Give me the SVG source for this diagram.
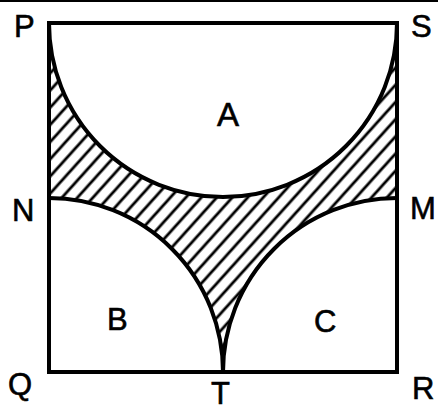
<svg xmlns="http://www.w3.org/2000/svg" width="438" height="412" viewBox="0 0 438 412">
  <style>
    .lbl { font-family: "Liberation Sans", Arial, sans-serif; font-size: 31px; fill: #000; stroke: #000; stroke-width: 0.6; }
    .edge { fill: none; stroke: #000; stroke-width: 4; stroke-linejoin: miter; }
  </style>
  <defs>
    <pattern id="hatch" patternUnits="userSpaceOnUse" width="11.5" height="11.5" patternTransform="rotate(42)">
      <line x1="5.75" y1="0" x2="5.75" y2="11.5" stroke="#000" stroke-width="2.8"/>
    </pattern>
  </defs>
  <rect width="438" height="412" fill="#fff"/>
  <line x1="0" y1="1" x2="438" y2="1" stroke="#000" stroke-width="2"/>

  <g id="shaded-region">
    <path d="M49,23 A174,174 0 0 0 397,23 L397,198 A174,174 0 0 0 223,372 A174,174 0 0 0 49,198 Z" fill="url(#hatch)" stroke="none"/>
  </g>

  <g id="connectors">
    <rect id="square-PQRS" class="edge" x="49" y="23" width="348" height="349"/>
    <path id="semicircle-A" class="edge" d="M49,23 A174,174 0 0 0 397,23"/>
    <path id="arc-B" class="edge" d="M49,198 A174,174 0 0 1 223,372"/>
    <path id="arc-C" class="edge" d="M397,198 A174,174 0 0 0 223,372"/>
  </g>

  <g id="node-P"><text class="lbl" x="14" y="37">P</text></g>
  <g id="node-S"><text class="lbl" x="411" y="37">S</text></g>
  <g id="node-N"><text class="lbl" x="12" y="221">N</text></g>
  <g id="node-M"><text class="lbl" x="410" y="219">M</text></g>
  <g id="node-Q"><text class="lbl" x="8" y="395">Q</text></g>
  <g id="node-T"><text class="lbl" x="211" y="404">T</text></g>
  <g id="node-R"><text class="lbl" x="412" y="399">R</text></g>
  <g id="node-A"><text class="lbl" x="217" y="126" style="font-size:33px">A</text></g>
  <g id="node-B"><text class="lbl" x="107" y="330">B</text></g>
  <g id="node-C"><text class="lbl" x="314" y="332">C</text></g>
</svg>
